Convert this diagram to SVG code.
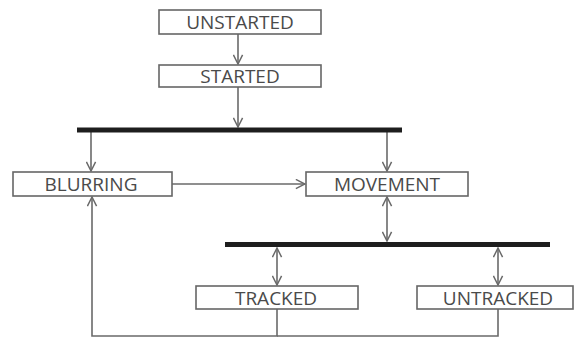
<svg xmlns="http://www.w3.org/2000/svg" width="576" height="338" viewBox="0 0 576 338">
<style>
.box{fill:#fff;stroke:#666;stroke-width:1.6}
.lbl{font-family:"Open Sans","Liberation Sans",sans-serif;font-size:19px;fill:#4a4a4a;text-anchor:middle}
.ln{fill:none;stroke:#6a6a6a;stroke-width:1.6}
.bar{fill:#1e1e1e}
</style>
<defs>
<marker id="ah" viewBox="0 0 12 12" refX="11" refY="6" markerWidth="11" markerHeight="11" markerUnits="userSpaceOnUse" orient="auto-start-reverse">
<path d="M1,1 L11,6 L1,11" fill="none" stroke="#6a6a6a" stroke-width="1.6"/>
</marker>
</defs>
<rect width="576" height="338" fill="#fff"/>
<g id="connectors">
<line class="ln" x1="238" y1="34" x2="238" y2="64" marker-end="url(#ah)"/>
<line class="ln" x1="238" y1="87" x2="238" y2="127" marker-end="url(#ah)"/>
<line class="ln" x1="91" y1="132" x2="91" y2="171" marker-end="url(#ah)"/>
<line class="ln" x1="387" y1="132" x2="387" y2="171" marker-end="url(#ah)"/>
<line class="ln" x1="172" y1="184" x2="305" y2="184" marker-end="url(#ah)"/>
<line class="ln" x1="387" y1="197" x2="387" y2="241" marker-start="url(#ah)" marker-end="url(#ah)"/>
<line class="ln" x1="277" y1="248" x2="277" y2="285" marker-start="url(#ah)" marker-end="url(#ah)"/>
<line class="ln" x1="498" y1="248" x2="498" y2="285" marker-start="url(#ah)" marker-end="url(#ah)"/>
<polyline class="ln" points="277,309 277,336 92,336 92,197" marker-end="url(#ah)"/>
<polyline class="ln" points="498,309 498,336 277,336"/>
</g>
<g id="bar1"><rect class="bar" x="77" y="127.5" width="325" height="5"/></g>
<g id="bar2"><rect class="bar" x="225" y="242" width="325" height="5"/></g>
<g id="unstarted"><rect class="box" x="159" y="10" width="162" height="24"/><text class="lbl" x="240" y="29">UNSTARTED</text></g>
<g id="started"><rect class="box" x="159" y="65" width="162" height="22"/><text class="lbl" x="240" y="83">STARTED</text></g>
<g id="blurring"><rect class="box" x="13" y="172" width="159" height="24"/><text class="lbl" x="91" y="191">BLURRING</text></g>
<g id="movement"><rect class="box" x="306" y="172" width="162" height="24"/><text class="lbl" x="387" y="191">MOVEMENT</text></g>
<g id="tracked"><rect class="box" x="196" y="286" width="162" height="23"/><text class="lbl" x="276" y="304.5">TRACKED</text></g>
<g id="untracked"><rect class="box" x="417" y="286" width="156" height="23"/><text class="lbl" x="498" y="304.5">UNTRACKED</text></g>
</svg>
